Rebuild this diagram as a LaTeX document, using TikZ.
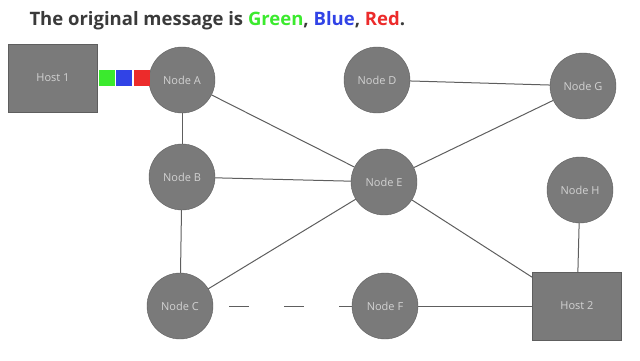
\documentclass[tikz,border=0pt]{standalone}
\usepackage{fontspec}
\setmainfont{Open Sans}
\usepackage{xcolor}
\usetikzlibrary{positioning}
\definecolor{nodegray}{HTML}{7A7A7A}
\definecolor{edgegray}{HTML}{5E5E5E}
\definecolor{labelgray}{HTML}{D2D2D2}
\definecolor{titlegray}{HTML}{3A3A3A}
\definecolor{msggreen}{HTML}{3BEA2E}
\definecolor{msgblue}{HTML}{3143E6}
\definecolor{msgred}{HTML}{EC2B2B}
\tikzset{
  netnode/.style = {draw=edgegray, fill=nodegray, circle, inner sep=0pt,
                    minimum size=66pt, text=labelgray, font=\fontsize{11}{13}\selectfont},
  hostbox/.style = {draw=edgegray, fill=nodegray, rectangle, inner sep=0pt,
                    minimum width=89pt, minimum height=68pt, text=labelgray,
                    font=\fontsize{11}{13}\selectfont},
  packet/.style  = {rectangle, inner sep=0pt, minimum size=16pt},
  link/.style    = {draw=edgegray, line width=1pt},
}

\begin{document}
\begin{tikzpicture}[x=1pt,y=-1pt]
\useasboundingbox (0,0) rectangle (640,361);
% title
\node[anchor=base west, text=titlegray, font=\fontsize{18.5}{22}\selectfont\bfseries]
  (title) at (26,26) {The original message is \textcolor{msggreen}{Green},
  \textcolor{msgblue}{Blue}, \textcolor{msgred}{Red}.};
% hosts and nodes
\node[hostbox] (H1) at (53,78) {Host 1};
\node[hostbox] (H2) at (577,306) {Host 2};
\node[netnode] (A) at (182,80) {Node A};
\node[netnode] (B) at (182,177) {Node B};
\node[netnode] (C) at (180,306) {Node C};
\node[netnode] (D) at (377,80) {Node D};
\node[netnode] (E) at (384,182) {Node E};
\node[netnode] (F) at (385,306) {Node F};
\node[netnode] (G) at (583,86) {Node G};
\node[netnode] (Hn) at (580,190) {Node H};
% message packets
\node[packet, fill=msggreen, right=1pt of H1] (pg) {};
\node[packet, fill=msgblue, right=1pt of pg] (pb) {};
\node[packet, fill=msgred, right=1pt of pb] (pr) {};
% links
\draw[link] (A) -- (B);
\draw[link] (B) -- (C);
\draw[link] (A) -- (E);
\draw[link] (B) -- (E);
\draw[link] (C) -- (E);
\draw[link] (D) -- (G);
\draw[link] (E) -- (G);
\draw[link] (E) -- (H2);
\draw[link] (F) -- (H2);
\draw[link] (Hn) -- (H2);
\draw[link, dash pattern=on 20pt off 35pt, dash phase=39pt] (C) -- (F);
\end{tikzpicture}
\end{document}
